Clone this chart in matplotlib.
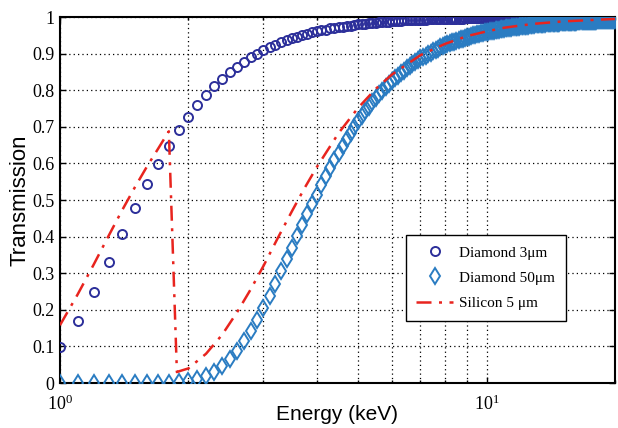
import numpy as np
import matplotlib
matplotlib.use("Agg")
import matplotlib.pyplot as plt
from matplotlib.ticker import LogLocator, NullFormatter

# photon energy grid of the markers (keV), 0.1 keV steps
energy = np.round(np.arange(1.0, 20.05, 0.1), 1)

# Diamond 3 um transmission (1.0 ... 20.0 keV)
diamond_3um = [
    0.098, 0.169, 0.250, 0.331, 0.408, 0.478, 0.543, 0.599, 0.648, 0.691,
    0.727, 0.759, 0.787, 0.811, 0.831, 0.849, 0.864, 0.878, 0.890, 0.900,
    0.909, 0.918, 0.925, 0.931, 0.937, 0.942, 0.947, 0.951, 0.955, 0.958,
    0.961, 0.964, 0.966, 0.969, 0.971, 0.973, 0.974, 0.976, 0.977, 0.979,
    0.980, 0.981, 0.982, 0.983, 0.984, 0.985, 0.986, 0.987, 0.987, 0.988,
    0.989, 0.989, 0.990, 0.990, 0.991, 0.991, 0.991, 0.992, 0.992, 0.993,
    0.993, 0.993, 0.993, 0.994, 0.994, 0.994, 0.994, 0.995, 0.995, 0.995,
    0.995, 0.995, 0.996, 0.996, 0.996, 0.996, 0.996, 0.996, 0.996, 0.997,
    0.997, 0.997, 0.997, 0.997, 0.997, 0.997, 0.997, 0.997, 0.997, 0.997,
    0.998, 0.998, 0.998, 0.998, 0.998, 0.998, 0.998, 0.998, 0.998, 0.998,
    0.998, 0.998, 0.998, 0.998, 0.998, 0.998, 0.998, 0.998, 0.998, 0.998,
    0.998, 0.998, 0.998, 0.998, 0.999, 0.999, 0.999, 0.999, 0.999, 0.999,
    0.999, 0.999, 0.999, 0.999, 0.999, 0.999, 0.999, 0.999, 0.999, 0.999,
    0.999, 0.999, 0.999, 0.999, 0.999, 0.999, 0.999, 0.999, 0.999, 0.999,
    0.999, 0.999, 0.999, 0.999, 0.999, 0.999, 0.999, 0.999, 0.999, 0.999,
    0.999, 0.999, 0.999, 0.999, 0.999, 0.999, 0.999, 0.999, 0.999, 0.999,
    0.999, 0.999, 0.999, 0.999, 0.999, 0.999, 0.999, 0.999, 0.999, 0.999,
    0.999, 0.999, 0.999, 0.999, 0.999, 0.999, 0.999, 0.999, 0.999, 0.999,
    0.999, 0.999, 0.999, 0.999, 0.999, 0.999, 0.999, 0.999, 0.999, 0.999,
    0.999,
]

# Diamond 50 um transmission (1.0 ... 20.0 keV)
diamond_50um = [
    0.000, 0.000, 0.000, 0.000, 0.000, 0.000, 0.000, 0.000, 0.001, 0.002,
    0.005, 0.010, 0.018, 0.030, 0.046, 0.065, 0.088, 0.114, 0.143, 0.173,
    0.205, 0.238, 0.272, 0.305, 0.338, 0.370, 0.402, 0.432, 0.461, 0.489,
    0.515, 0.541, 0.565, 0.588, 0.609, 0.630, 0.649, 0.667, 0.684, 0.700,
    0.715, 0.729, 0.743, 0.755, 0.767, 0.778, 0.789, 0.799, 0.808, 0.817,
    0.825, 0.833, 0.840, 0.847, 0.854, 0.860, 0.866, 0.872, 0.877, 0.882,
    0.887, 0.891, 0.895, 0.899, 0.903, 0.907, 0.911, 0.914, 0.917, 0.920,
    0.923, 0.926, 0.928, 0.931, 0.933, 0.935, 0.937, 0.939, 0.941, 0.943,
    0.945, 0.947, 0.948, 0.950, 0.951, 0.953, 0.954, 0.956, 0.957, 0.958,
    0.959, 0.960, 0.961, 0.962, 0.963, 0.964, 0.965, 0.966, 0.967, 0.968,
    0.968, 0.969, 0.970, 0.970, 0.971, 0.972, 0.972, 0.973, 0.974, 0.974,
    0.975, 0.975, 0.976, 0.976, 0.977, 0.977, 0.978, 0.978, 0.979, 0.979,
    0.980, 0.980, 0.980, 0.981, 0.981, 0.981, 0.982, 0.982, 0.983, 0.983,
    0.983, 0.983, 0.984, 0.984, 0.984, 0.985, 0.985, 0.985, 0.985, 0.986,
    0.986, 0.986, 0.986, 0.987, 0.987, 0.987, 0.987, 0.987, 0.988, 0.988,
    0.988, 0.988, 0.988, 0.989, 0.989, 0.989, 0.989, 0.989, 0.989, 0.989,
    0.989, 0.989, 0.990, 0.990, 0.990, 0.990, 0.990, 0.990, 0.990, 0.990,
    0.990, 0.990, 0.991, 0.991, 0.991, 0.991, 0.991, 0.991, 0.991, 0.991,
    0.991, 0.991, 0.991, 0.992, 0.992, 0.992, 0.992, 0.992, 0.992, 0.992,
    0.992,
]

# Silicon 5 um curve (keV, transmission), with the Si K-edge drop
si_energy = [1.0, 1.1, 1.2, 1.3, 1.4, 1.5, 1.6, 1.7, 1.8, 1.88, 1.9, 2.0,
             2.2, 2.4, 2.6, 2.8, 3.0, 3.25, 3.5, 3.75, 4.0, 4.5, 5.0, 5.5,
             6.0, 7.0, 8.0, 9.0, 10.0, 11.0, 12.0, 13.0, 15.0, 17.5, 20.0]
si_5um = [0.158, 0.242, 0.324, 0.402, 0.473, 0.536, 0.592, 0.641, 0.688, 0.030,
          0.032, 0.040, 0.080, 0.132, 0.193, 0.256, 0.320, 0.399, 0.470, 0.534,
          0.590, 0.683, 0.752, 0.804, 0.843, 0.896, 0.927, 0.948, 0.961, 0.971,
          0.977, 0.982, 0.988, 0.992, 0.995]

ytick_vals = [0, 0.1, 0.2, 0.3, 0.4, 0.5, 0.6, 0.7, 0.8, 0.9, 1]
ytick_labels = ["0", "0.1", "0.2", "0.3", "0.4", "0.5", "0.6", "0.7", "0.8", "0.9", "1"]

plt.rcParams["mathtext.fontset"] = "custom"
plt.rcParams["mathtext.rm"] = "Liberation Serif"
plt.rcParams["mathtext.it"] = "Liberation Serif:italic"

fig = plt.figure(figsize=(6.18, 4.28), dpi=100)
ax = fig.add_axes([0.097, 0.105, 0.898, 0.855])

ax.plot(energy, diamond_3um, linestyle="none", marker="o", markersize=6.5,
        markerfacecolor="none", markeredgecolor="#2c2f9a", markeredgewidth=1.4,
        label="Diamond 3\u03bcm", zorder=3)
ax.plot(energy, diamond_50um, linestyle="none", marker="d", markersize=8,
        markerfacecolor="none", markeredgecolor="#2a7cc2", markeredgewidth=1.4,
        label="Diamond 50\u03bcm", zorder=3)
ax.plot(si_energy, si_5um, color="#e8241e", linewidth=1.8,
        linestyle=(0, (6, 3, 1.2, 3)), label="Silicon 5 \u03bcm", zorder=4)

ax.set_xscale("log")
ax.set_xlim(1, 20)
ax.set_ylim(0, 1)

ax.set_xticks([1, 10])
ax.set_xticklabels(["$10^0$", "$10^1$"])
ax.xaxis.set_minor_locator(LogLocator(base=10, subs=np.arange(2, 10)))
ax.xaxis.set_minor_formatter(NullFormatter())
ax.set_yticks(ytick_vals)
ax.set_yticklabels(ytick_labels)

for lab in ax.get_xticklabels() + ax.get_yticklabels():
    lab.set_fontfamily("Liberation Serif")
    lab.set_fontsize(13)

ax.tick_params(which="both", direction="in", top=True, right=True, width=1)
ax.tick_params(which="major", length=4)
ax.tick_params(which="minor", length=2.5)
ax.tick_params(axis="x", which="major", pad=8)
ax.tick_params(axis="y", pad=4)

ax.grid(True, which="both", color="black", linestyle=(0, (1, 2.5)), linewidth=0.9)
for sp in ax.spines.values():
    sp.set_linewidth(1.5)

ax.set_xlabel("Energy (keV)", fontfamily="Liberation Sans", fontsize=15, labelpad=-6)
ax.set_ylabel("Transmission", fontfamily="Liberation Sans", fontsize=16, labelpad=1)

leg = ax.legend(loc="upper left", bbox_to_anchor=(0.623, 0.404), borderaxespad=0,
                numpoints=1, prop={"family": "Liberation Serif", "size": 11},
                fancybox=False, framealpha=1, edgecolor="black",
                handlelength=2.4, handletextpad=0.4, borderpad=0.7,
                labelspacing=0.75)
leg.get_frame().set_linewidth(1)

fig.savefig("out.png", dpi=100)
